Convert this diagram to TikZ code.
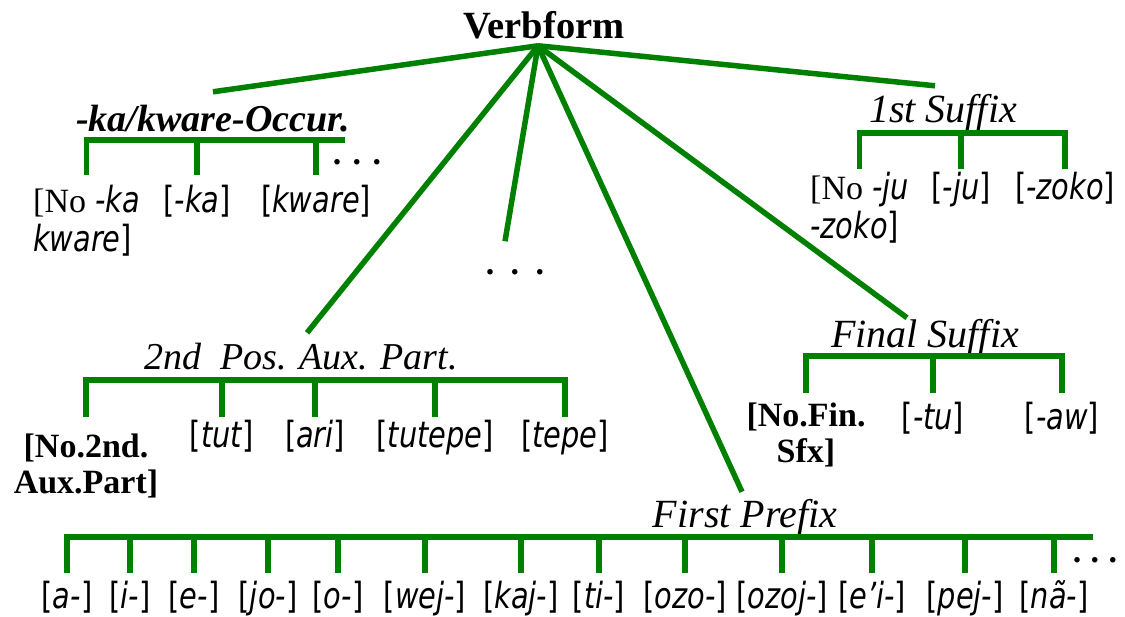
\documentclass[tikz,border=0pt]{standalone}
\usepackage{fontspec}
\setmainfont{Liberation Serif}
\newfontfamily\msans[FakeStretch=0.8]{DejaVu Sans}
\usetikzlibrary{calc}
\definecolor{vgreen}{RGB}{0,128,0}
\newcommand\morphfont{\msans\fontsize{36}{36}\selectfont}
\newcommand\serfont{\rmfamily\fontsize{34}{36}\selectfont}
\newcommand\mrph[1]{[\textit{#1}]}
\newcommand\threedots[1]{\makebox[#1]{.}\makebox[#1]{.}\makebox[#1]{.}}
\begin{document}
\begin{tikzpicture}[x=1pt,y=-1pt,
  link/.style={draw=vgreen,line width=5.5pt,line join=miter},
  morph/.style={font=\morphfont,anchor=base,inner sep=0pt},
  head/.style={anchor=base,inner sep=0pt,text height=26pt},
  dotrow/.style={font=\bfseries\fontsize{34}{36}\selectfont,anchor=base,inner sep=0pt}]
\fill[white] (0,0) rectangle (1125,617);
\useasboundingbox (0,0) rectangle (1125,617);

% root
\node[anchor=base,inner sep=0pt,font=\bfseries\fontsize{38.5}{40}\selectfont] (root) at (544,39) {Verbform};
\coordinate (apex) at ([xshift=-6pt,yshift=-6pt]root.south);

% headings
\node[head,font=\bfseries\itshape\fontsize{38}{40}\selectfont] (ka) at (213,132) {-ka/kware-Occur.};
\node[head,font=\itshape\fontsize{40}{42}\selectfont] (s1) at (943,123) {1st Suffix};
\node[head,font=\itshape\fontsize{38}{40}\selectfont] (p2) at (301,370) {2nd\ \ Pos. Aux. Part.};
\node[head,font=\itshape\fontsize{40}{42}\selectfont] (fs) at (925,348) {Final Suffix};
\node[head,font=\itshape\fontsize{40}{42}\selectfont] (fp) at (745,527) {First Prefix};

% dots
\node[dotrow] (kadots) at (357,164.5) {\threedots{20pt}};
\node[dotrow] (mid) at (515,274.5) {\threedots{25pt}};
\node[dotrow] (fpdots) at (1095,562.5) {\threedots{18pt}};

% radial links
\draw[link] (apex) -- ([yshift=14pt]ka.north);
\draw[link] (apex) -- ([xshift=-8pt,yshift=11pt]s1.north);
\draw[link] (apex) -- ([xshift=6pt,yshift=11pt]p2.north);
\draw[link] (apex) -- ([xshift=-10pt,yshift=31pt]mid.center);
\draw[link] (apex) -- ([xshift=-3pt,yshift=9pt]fp.north);
\draw[link] (apex) -- ([xshift=-18pt,yshift=4pt]fs.north);

% -ka/kware-Occur. group
\node[morph,anchor=base west] (ka1) at (33,213) {\begin{tabular}[t]{@{}l@{}}{\serfont[No} \textit{-ka}\\\textit{kware}]\end{tabular}};
\node[morph] (ka2) at (197,213) {\mrph{-ka}};
\node[morph] (ka3) at (316,213) {\mrph{kware}};
\coordinate (kabar) at (0,140);
\coordinate (kaend) at (345,140);
\draw[link] ($(ka1|-kabar)+(0,35)$) -- (ka1|-kabar) -- (kaend);
\foreach \c in {ka2,ka3} \draw[link] (\c|-kabar) -- ++(0,35);

% 1st Suffix group
\node[morph,anchor=base west] (s1a) at (810,200) {\begin{tabular}[t]{@{}l@{}}{\serfont[No} \textit{-ju}\\\textit{-zoko}]\end{tabular}};
\node[morph] (s1b) at (961,200) {\mrph{-ju}};
\node[morph] (s1c) at (1065,200) {\mrph{-zoko}};
\coordinate (s1bar) at (0,133);
\draw[link] ($(s1a|-s1bar)+(0,36)$) -- (s1a|-s1bar) -- (s1c|-s1bar) -- ++(0,36);
\draw[link] (s1b|-s1bar) -- ++(0,36);

% 2nd Pos. Aux. Part. group
\node[morph] (p2a) at (86,457) {\begin{tabular}[t]{@{}c@{}}\serfont\bfseries [No.2nd.\\ \serfont\bfseries Aux.Part]\end{tabular}};
\node[morph] (p2b) at (222,448) {\mrph{tut}};
\node[morph] (p2c) at (315,448) {\mrph{ari}};
\node[morph] (p2d) at (435,448) {\mrph{tutepe}};
\node[morph] (p2e) at (565,448) {\mrph{tepe}};
\coordinate (p2bar) at (0,380);
\draw[link] ($(p2a|-p2bar)+(0,37)$) -- (p2a|-p2bar) -- (p2e|-p2bar) -- ++(0,37);
\foreach \c in {p2b,p2c,p2d} \draw[link] (\c|-p2bar) -- ++(0,37);

% Final Suffix group
\node[morph] (fsa) at (806,427) {\begin{tabular}[t]{@{}c@{}}\serfont\bfseries [No.Fin.\\ \serfont\bfseries Sfx]\end{tabular}};
\node[morph] (fsb) at (933,430) {\mrph{-tu}};
\node[morph] (fsc) at (1062,430) {\mrph{-aw}};
\coordinate (fsbar) at (0,356);
\draw[link] ($(fsa|-fsbar)+(0,37)$) -- (fsa|-fsbar) -- (fsc|-fsbar) -- ++(0,37);
\draw[link] (fsb|-fsbar) -- ++(0,37);

% First Prefix group
\node[morph] (fp1) at (67,608) {\mrph{a-}};
\node[morph] (fp2) at (130,608) {\mrph{i-}};
\node[morph] (fp3) at (194,608) {\mrph{e-}};
\node[morph] (fp4) at (268,608) {\mrph{jo-}};
\node[morph] (fp5) at (338,608) {\mrph{o-}};
\node[morph] (fp6) at (425,608) {\mrph{wej-}};
\node[morph] (fp7) at (521,608) {\mrph{kaj-}};
\node[morph] (fp8) at (599,608) {\mrph{ti-}};
\node[morph] (fp9) at (685,608) {\mrph{ozo-}};
\node[morph] (fp10) at (782,608) {\mrph{ozoj-}};
\node[morph] (fp11) at (872,608) {\mrph{e’i-}};
\node[morph] (fp12) at (965,608) {\mrph{pej-}};
\node[morph] (fp13) at (1054,608) {\mrph{nã-}};
\coordinate (fpbar) at (0,537);
\coordinate (fpend) at (1093,537);
\draw[link] ($(fp1|-fpbar)+(0,36)$) -- (fp1|-fpbar) -- (fpend);
\foreach \i in {2,...,13} \draw[link] (fp\i|-fpbar) -- ++(0,36);
\end{tikzpicture}
\end{document}
